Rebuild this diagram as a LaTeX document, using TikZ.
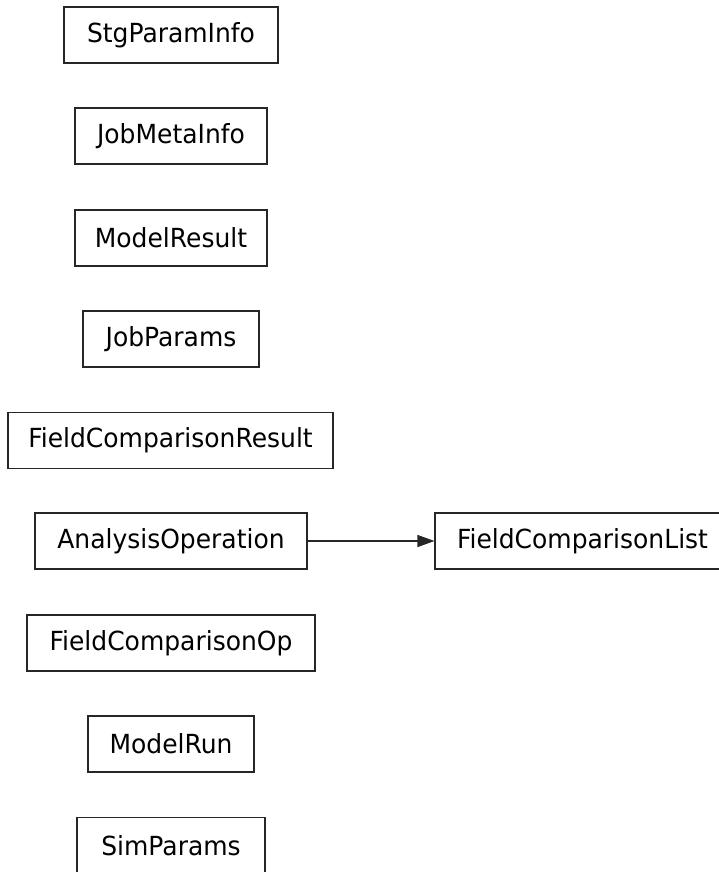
\documentclass[tikz,border=0pt]{standalone}
\usepackage{fontspec}
\setmainfont{DejaVu Sans}
\newfontfamily\nodefont[FakeStretch=0.95]{DejaVu Sans}
\usetikzlibrary{arrows.meta}
\begin{document}
\begin{tikzpicture}[x=1pt,y=-1pt,
  cls/.style={draw=black!85, line width=1.1pt, minimum height=56pt, inner sep=0pt,
    font=\nodefont\fontsize{26.3}{30}\selectfont, anchor=center},
  assoc/.style={draw=black!85, line width=1.1pt, -{Triangle[length=17pt,width=12pt]}}]
\useasboundingbox (0,0) rectangle (718,872);
\node[cls, minimum width=214pt] (stg) at (171,35) {StgParamInfo};
\node[cls, minimum width=192pt] (jmi) at (171,136) {JobMetaInfo};
\node[cls, minimum width=192pt] (mres) at (171,238) {ModelResult};
\node[cls, minimum width=176pt] (jp) at (171,339) {JobParams};
\node[cls, minimum width=325pt] (fcr) at (170.5,440.5) {FieldComparisonResult};
\node[cls, minimum width=272pt] (ao) at (171,541) {AnalysisOperation};
\node[cls, minimum width=295pt] (fcl) at (582.5,541) {FieldComparisonList};
\node[cls, minimum width=288pt] (fco) at (171,643) {FieldComparisonOp};
\node[cls, minimum width=166pt] (mrun) at (171,744) {ModelRun};
\node[cls, minimum width=188pt] (sim) at (171,845.5) {SimParams};
\draw[assoc] (ao.east) -- (fcl.west);
\end{tikzpicture}
\end{document}
